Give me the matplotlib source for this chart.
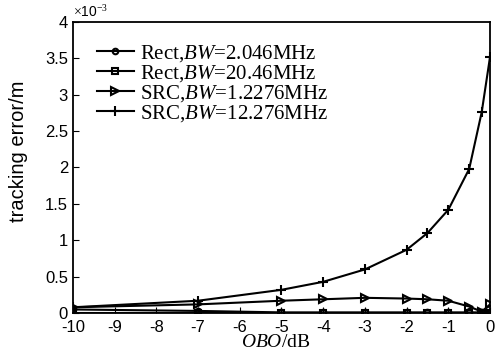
import matplotlib
matplotlib.use("Agg")
import matplotlib.pyplot as plt
from matplotlib.ticker import FuncFormatter

# OBO (dB) sample points
obo = [-10, -7, -5, -4, -3, -2, -1.5, -1, -0.5, -0.2, 0]

# tracking error, units of 1e-3 m
rect_2046 = [0.05, 0.03, 0.01, 0.01, 0.01, 0.01, 0.01, 0.01, 0.01, 0.01, 0.01]
rect_2046b = [0.005, 0.005, 0.005, 0.005, 0.005, 0.005, 0.005, 0.005, 0.005, 0.005, 0.005]
src_12276 = [0.08, 0.12, 0.17, 0.19, 0.21, 0.2, 0.19, 0.17, 0.09, 0.02, 0.12]
src_122760 = [0.08, 0.17, 0.32, 0.43, 0.6, 0.87, 1.1, 1.42, 1.98, 2.76, 3.52]

labels = [r"Rect,$\mathit{BW}$=2.046MHz", r"Rect,$\mathit{BW}$=20.46MHz",
          r"SRC,$\mathit{BW}$=1.2276MHz", r"SRC,$\mathit{BW}$=12.276MHz"]

plt.rcParams["mathtext.fontset"] = "custom"
plt.rcParams["mathtext.it"] = "Liberation Serif:italic"
plt.rcParams["mathtext.rm"] = "Liberation Serif"
plt.rcParams["axes.unicode_minus"] = False

fig = plt.figure(figsize=(4.96, 3.53), dpi=100)
ax = fig.add_axes([0.147, 0.113, 0.841, 0.825])

kw = dict(color="black", lw=1.5, mfc="none", mec="black", mew=1.5)
ax.plot(obo, rect_2046, marker="o", ms=4, label=labels[0], **kw)
ax.plot(obo, rect_2046b, marker="s", ms=5, label=labels[1], **kw)
ax.plot(obo, src_12276, marker=">", ms=6, label=labels[2], **kw)
ax.plot(obo, src_122760, marker="+", ms=7, label=labels[3], **kw)

ax.set_xlim(-10, 0)
ax.set_ylim(0, 4)
ax.set_xticks(range(-10, 1))
ax.set_yticks([i * 0.5 for i in range(9)])
ax.yaxis.set_major_formatter(FuncFormatter(lambda v, p: f"{v:g}"))
ax.tick_params(direction="in", labelsize=12, length=4)
ax.tick_params(axis="x", pad=5)
for t in ax.get_xticklabels() + ax.get_yticklabels():
    t.set_fontfamily("Liberation Sans")

ax.text(0.0, 1.005, r"$\times$10$^{-3}$", transform=ax.transAxes, fontsize=10,
        fontfamily="Liberation Sans", va="bottom", ha="left")

for s in ax.spines.values():
    s.set_linewidth(1.3)

ax.set_ylabel("tracking error/m", fontsize=14.5, fontfamily="Liberation Sans")
ax.yaxis.set_label_coords(-0.108, 0.557)
ax.set_xlabel(r"$\mathit{OBO}$/dB", fontsize=14, fontfamily="Liberation Serif")
ax.xaxis.set_label_coords(0.486, -0.072)

leg = ax.legend(loc="upper left", frameon=False,
                prop={"family": "Liberation Serif", "size": 15},
                handlelength=1.75, handletextpad=0.3, labelspacing=-0.05,
                borderaxespad=0.0, bbox_to_anchor=(0.038, 0.955))

fig.savefig("out.png", dpi=100)
